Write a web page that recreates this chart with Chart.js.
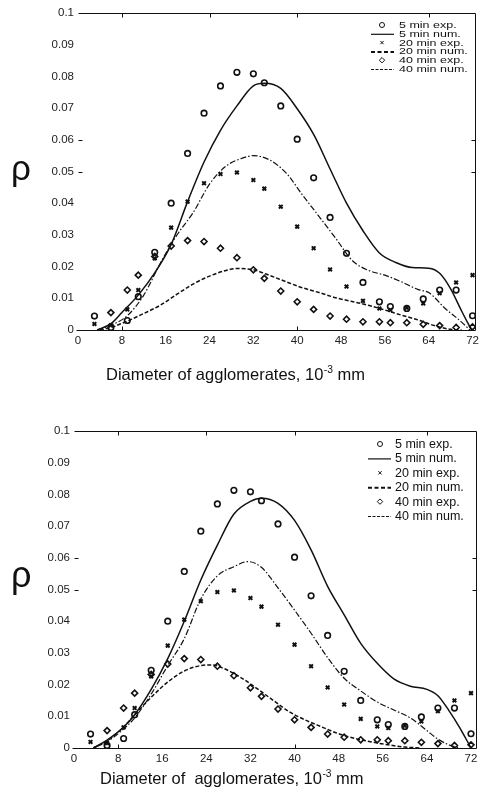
<!DOCTYPE html>
<html>
<head>
<meta charset="utf-8">
<script src="https://cdn.jsdelivr.net/npm/chart.js@4.4.1/dist/chart.umd.min.js"></script>
<style>
html,body{margin:0;padding:0;background:#fff;}
body{width:483px;height:792px;position:relative;overflow:hidden;}
.wrap{position:absolute;left:0;width:483px;}
canvas{display:block;}
</style>
</head>
<body>
<div class="wrap" style="top:0;height:392px"><canvas id="c1" width="483" height="392"></canvas></div>
<div class="wrap" style="top:400px;height:392px"><canvas id="c2" width="483" height="392"></canvas></div>
<script>
// ---------- data ----------
const xTickValues = [0, 8, 16, 24, 32, 40, 48, 56, 64, 72];
const yTickLabels = ['0','0.01','0.02','0.03','0.04','0.05','0.06','0.07','0.08','0.09','0.1'];
const seriesLabels = ['5 min exp.', '5 min num.', '20 min exp.', '20 min num.', '40 min exp.', '40 min num.'];
const yTitle = 'ρ';
const xTitleTop = ['Diameter of agglomerates, 10', '-3', ' mm'];
const xTitleBottom = ['Diameter of  agglomerates, 10', '-3', ' mm'];
const frameTopTicks = [8, 24, 40, 64];
const frameBottomTicks = [8, 40];
const frameSideTicks = [0.05, 0.06];

// experimental points (shared by both panels)
const xExp  = [3, 6, 9, 11, 14, 17, 20, 23, 26, 29, 32, 34, 37, 40, 43, 46, 49, 52, 55, 57, 60, 63, 66, 69, 72];
const exp5  = [0.0044, 0.0008, 0.003, 0.0105, 0.0245, 0.040, 0.0557, 0.0684, 0.077, 0.0813, 0.0808, 0.078, 0.0707, 0.0602, 0.048, 0.0355, 0.0242, 0.015, 0.0089, 0.0074, 0.0068, 0.0098, 0.0126, 0.0126, 0.0045];
const exp20 = [0.0019, 0.0015, 0.0065, 0.0126, 0.0226, 0.0323, 0.0405, 0.0463, 0.0492, 0.0497, 0.0473, 0.0446, 0.0389, 0.0326, 0.0258, 0.0191, 0.0137, 0.0092, 0.0068, 0.0063, 0.007, 0.0084, 0.0116, 0.015, 0.0173];
const exp40 = [null, 0.0055, 0.0126, 0.0173, 0.0232, 0.0265, 0.0282, 0.0279, 0.0258, 0.0228, 0.019, 0.0163, 0.0123, 0.0089, 0.0065, 0.0044, 0.0034, 0.0026, 0.0026, 0.0023, 0.0023, 0.0018, 0.0014, 0.0008, 0.001];

// numerical curves, upper panel
const topNum5X  = [3.5, 6, 8, 11, 14, 17, 20, 23, 26, 29, 32, 34, 37, 40, 43, 46, 49, 52, 55, 58, 61, 64, 66, 68, 70, 71.8];
const topNum5Y  = [0, 0.002, 0.0055, 0.011, 0.018, 0.027, 0.0405, 0.053, 0.063, 0.0707, 0.077, 0.0778, 0.0762, 0.0698, 0.0617, 0.0508, 0.040, 0.0313, 0.0243, 0.0213, 0.0197, 0.0195, 0.0179, 0.013, 0.006, 0];
const topNum20X = [3.5, 6, 9, 12, 15, 18, 21, 24, 27, 30, 32, 35, 38, 41, 44, 47, 50, 53, 56, 59, 62, 64, 67, 70, 71.5];
const topNum20Y = [0, 0.0015, 0.0045, 0.011, 0.021, 0.0298, 0.037, 0.046, 0.0517, 0.0542, 0.055, 0.0536, 0.0495, 0.0425, 0.0358, 0.029, 0.022, 0.0188, 0.0173, 0.0152, 0.0128, 0.0118, 0.0068, 0.0025, 0];
const topNum40X = [4, 6, 9, 12, 15, 18, 21, 24, 27, 29, 32, 35, 38, 41, 44, 47, 50, 53, 56, 59, 62, 65, 68, 70];
const topNum40Y = [0, 0.0008, 0.0028, 0.0052, 0.0078, 0.0112, 0.0145, 0.017, 0.0188, 0.0194, 0.019, 0.0172, 0.0152, 0.0133, 0.0118, 0.0102, 0.009, 0.0078, 0.0063, 0.0047, 0.0032, 0.0014, 0.0002, 0];

// numerical curves, lower panel
const botNum5X  = [3.5, 6, 9, 11, 14, 17, 20, 23, 26, 29, 32, 34, 37, 40, 43, 46, 49, 52, 55, 58, 61, 64, 66, 68, 70, 72];
const botNum5Y  = [0, 0.0025, 0.0066, 0.0105, 0.0185, 0.0282, 0.040, 0.053, 0.064, 0.0738, 0.0778, 0.0788, 0.0772, 0.0718, 0.0625, 0.051, 0.042, 0.033, 0.0267, 0.0218, 0.0195, 0.0185, 0.0165, 0.0118, 0.0063, 0];
const botNum20X = [3.5, 6, 9, 11, 14, 17, 20, 23, 26, 29, 31.5, 34, 37, 40, 43, 46, 49, 52, 55, 58, 61, 64, 66, 68, 70];
const botNum20Y = [0, 0.002, 0.006, 0.0095, 0.017, 0.026, 0.0345, 0.047, 0.0543, 0.0572, 0.0588, 0.057, 0.0505, 0.0435, 0.0362, 0.0285, 0.022, 0.018, 0.0145, 0.012, 0.0095, 0.0055, 0.0028, 0.001, 0];
const botNum40X = [3.5, 6, 9, 11, 14, 17, 20, 23, 25, 27, 30, 33, 36, 39, 42, 45, 48, 51, 54, 57, 60, 63];
const botNum40Y = [0, 0.0022, 0.0066, 0.0105, 0.016, 0.0208, 0.0243, 0.026, 0.0262, 0.0252, 0.0225, 0.019, 0.0152, 0.0115, 0.0088, 0.0066, 0.0045, 0.003, 0.0019, 0.001, 0.0003, 0];

// ---------- helpers ----------
const FONT = '"Liberation Sans", Arial, Helvetica, sans-serif';
const INK = '#111';
const pts = (xs, ys) => xs.map((x, i) => ({x: x, y: ys[i]})).filter(p => p.y !== null && p.y !== undefined);

function makeDatasets(n5x, n5y, n20x, n20y, n40x, n40y) {
  return [
    {label: seriesLabels[0], data: pts(xExp, exp5), showLine: false, pointStyle: 'circle', pointRadius: 2.8, borderWidth: 1.6, borderColor: INK, backgroundColor: 'rgba(0,0,0,0)', legendDash: null},
    {label: seriesLabels[1], data: pts(n5x, n5y), showLine: true, pointRadius: 0, borderWidth: 1.5, borderColor: INK, cubicInterpolationMode: 'monotone', legendDash: [], legendWidth: 1.2},
    {label: seriesLabels[2], data: pts(xExp, exp20), showLine: false, pointStyle: 'crossRot', pointRadius: 2.6, borderWidth: 2, borderColor: INK, backgroundColor: 'rgba(0,0,0,0)', legendDash: null},
    {label: seriesLabels[3], data: pts(n20x, n20y), showLine: true, pointRadius: 0, borderWidth: 1.2, borderColor: INK, borderDash: [6, 2, 1.5, 2], cubicInterpolationMode: 'monotone', legendDash: [4, 2.5], legendWidth: 2},
    {label: seriesLabels[4], data: pts(xExp, exp40), showLine: false, pointStyle: 'rectRot', pointRadius: 3, borderWidth: 1.6, borderColor: INK, backgroundColor: 'rgba(0,0,0,0)', legendDash: null},
    {label: seriesLabels[5], data: pts(n40x, n40y), showLine: true, pointRadius: 0, borderWidth: 1.5, borderColor: INK, borderDash: [4, 2], cubicInterpolationMode: 'monotone', legendDash: [3, 1.5], legendWidth: 1.2}
  ];
}

const decor = {
  id: 'decor',
  afterDraw(chart, args, o) {
    const ctx = chart.ctx, a = chart.chartArea, xs = chart.scales.x, ys = chart.scales.y;
    ctx.save();
    ctx.strokeStyle = INK; ctx.lineWidth = 1; ctx.setLineDash([]);
    const L = Math.round(a.left) + 0.5, R = Math.round(a.right) - 0.5, T = Math.round(a.top) + 0.5, B = Math.round(a.bottom) + 0.5;
    ctx.beginPath();
    ctx.moveTo(L - 2, B); ctx.lineTo(R, B);
    ctx.moveTo(L, T); ctx.lineTo(R, T); ctx.lineTo(R, B);
    frameTopTicks.forEach(v => { const p = Math.round(xs.getPixelForValue(v)) + 0.5; ctx.moveTo(p, T); ctx.lineTo(p, T + 4); });
    frameBottomTicks.forEach(v => { const p = Math.round(xs.getPixelForValue(v)) + 0.5; ctx.moveTo(p, B); ctx.lineTo(p, B - 4); });
    frameSideTicks.forEach(v => { const p = Math.round(ys.getPixelForValue(v)) + 0.5; ctx.moveTo(L, p); ctx.lineTo(L + 4, p); ctx.moveTo(R, p); ctx.lineTo(R - 4, p); });
    ctx.stroke();

    // y title (rho)
    ctx.fillStyle = INK;
    ctx.textAlign = 'left'; ctx.textBaseline = 'alphabetic';
    ctx.font = o.rhoSize + 'px ' + FONT;
    ctx.fillText(yTitle, o.rhoX, o.rhoY);

    // x title with superscript
    let x = o.titleX;
    ctx.font = o.titleSize + 'px ' + FONT;
    ctx.fillText(o.title[0], x, o.titleY); x += ctx.measureText(o.title[0]).width;
    ctx.font = (o.titleSize * 0.62) + 'px ' + FONT;
    ctx.fillText(o.title[1], x + 0.5, o.titleY - 7); x += ctx.measureText(o.title[1]).width + 0.5;
    ctx.font = o.titleSize + 'px ' + FONT;
    ctx.fillText(o.title[2], x, o.titleY);

    // legend inside plot
    const H = Chart.helpers;
    chart.data.datasets.forEach((ds, i) => {
      const y = o.legY0 + i * o.legDy;
      ctx.save();
      ctx.strokeStyle = INK; ctx.fillStyle = 'rgba(0,0,0,0)';
      if (ds.legendDash === null) {
        H.drawPoint(ctx, {pointStyle: ds.pointStyle, radius: ds.pointRadius * 0.9, borderWidth: ds.borderWidth, rotation: 0}, o.legMx, y);
      } else {
        ctx.lineWidth = ds.legendWidth; ctx.setLineDash(ds.legendDash);
        ctx.beginPath(); ctx.moveTo(o.legL0, y + 0.5); ctx.lineTo(o.legL1, y + 0.5); ctx.stroke();
      }
      ctx.restore();
      ctx.save();
      ctx.fillStyle = INK;
      ctx.font = o.legSize + 'px ' + FONT;
      ctx.textAlign = 'left'; ctx.textBaseline = 'middle';
      ctx.translate(o.legTx, y + 0.5);
      ctx.scale(1, o.legSy);
      ctx.fillText(ds.label, 0, 0);
      ctx.restore();
    });
    ctx.restore();
  }
};

function makeChart(id, datasets, cfg) {
  return new Chart(document.getElementById(id), {
    type: 'scatter',
    data: {datasets: datasets},
    plugins: [decor],
    options: {
      responsive: false,
      animation: false,
      events: [],
      layout: {padding: {top: cfg.padTop, right: cfg.padRight, left: 0, bottom: 0}},
      plugins: {legend: {display: false}, tooltip: {enabled: false}, decor: cfg.decor},
      scales: {
        x: {
          type: 'linear', min: 0, max: cfg.xMax,
          afterBuildTicks: s => { s.ticks = xTickValues.map(v => ({value: v})); },
          afterFit: s => { s.height = cfg.xAxisH; },
          grid: {display: false, drawTicks: false},
          border: {display: false},
          ticks: {autoSkip: false, maxRotation: 0, padding: 4, color: '#222', font: {family: FONT, size: 11.5}, callback: v => String(v)}
        },
        y: {
          type: 'linear', min: 0, max: 0.1,
          ticks: {stepSize: 0.01, padding: 4, color: '#222', font: {family: FONT, size: 11.5}, callback: v => yTickLabels[Math.round(v * 100)]},
          afterFit: s => { s.width = cfg.yAxisW; },
          grid: {display: false, drawTicks: false},
          border: {display: false}
        }
      }
    }
  });
}

makeChart('c1', makeDatasets(topNum5X, topNum5Y, topNum20X, topNum20Y, topNum40X, topNum40Y), {
  padTop: 13, padRight: 1, xMax: 72.54, xAxisH: 62, yAxisW: 78,
  decor: {rhoSize: 35, rhoX: 11, rhoY: 180, title: xTitleTop, titleSize: 16.5, titleX: 106, titleY: 380,
          legY0: 25, legDy: 8.8, legSy: 0.72, legSize: 12.5, legMx: 382, legL0: 371, legL1: 394, legTx: 399}
});

makeChart('c2', makeDatasets(botNum5X, botNum5Y, botNum20X, botNum20Y, botNum40X, botNum40Y), {
  padTop: 31, padRight: 5, xMax: 73.09, xAxisH: 44, yAxisW: 74,
  decor: {rhoSize: 36, rhoX: 11, rhoY: 187, title: xTitleBottom, titleSize: 16.5, titleX: 100, titleY: 384,
          legY0: 44, legDy: 14.4, legSy: 1, legSize: 12.5, legMx: 380, legL0: 368, legL1: 391, legTx: 395}
});
</script>
</body>
</html>
